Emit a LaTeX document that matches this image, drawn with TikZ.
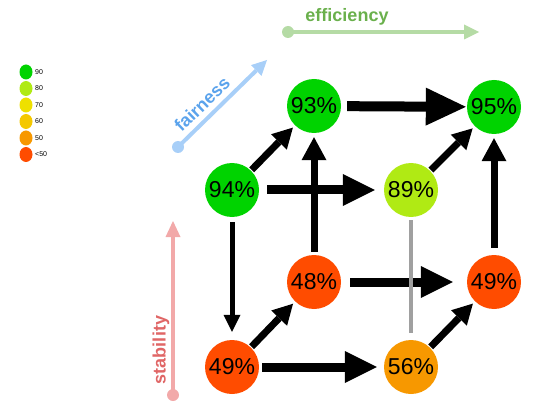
\documentclass[tikz,border=0pt]{standalone}
\usepackage{fontspec}
\setmainfont{Liberation Sans}
\usetikzlibrary{arrows.meta,shapes.geometric}
\definecolor{cA}{HTML}{00D300}
\definecolor{cB}{HTML}{B0EA14}
\definecolor{cC}{HTML}{EEE000}
\definecolor{cD}{HTML}{F4C800}
\definecolor{cE}{HTML}{F79800}
\definecolor{cF}{HTML}{FF4C00}
\definecolor{effl}{HTML}{B5DBA5}
\definecolor{efft}{HTML}{6AB04C}
\definecolor{fairl}{HTML}{A8CFF8}
\definecolor{fairt}{HTML}{5BA3EC}
\definecolor{stabl}{HTML}{F2A9A9}
\definecolor{stabt}{HTML}{E06666}
\definecolor{grayl}{HTML}{A0A0A0}
\begin{document}
\begin{tikzpicture}[x=1pt,y=-1pt,
  val/.style={circle, minimum size=54pt, inner sep=0pt, font=\fontsize{23}{23}\selectfont},
  leg/.style={ellipse, minimum width=13pt, minimum height=15pt, inner sep=0pt},
  legt/.style={anchor=west, inner sep=0pt, font=\fontsize{7}{7}\selectfont},
  hbig/.style={line width=10pt, -{Triangle[length=40pt,width=38pt,line width=0pt]}},
  hmid/.style={line width=9pt, -{Triangle[length=32pt,width=32pt,line width=0pt]}},
  vmid/.style={line width=7pt, -{Triangle[length=23pt,width=25pt,line width=0pt]}},
  vsmall/.style={line width=5pt, -{Triangle[length=17pt,width=17pt,line width=0pt]}},
  diag/.style={line width=7pt, -{Triangle[length=20pt,width=22pt,line width=0pt]}},
  axdot/.style={circle, minimum size=12pt, inner sep=0pt},
  axlab/.style={font=\fontsize{18}{18}\selectfont\bfseries, inner sep=0pt}
]
\useasboundingbox (0,0) rectangle (543,406);

% legend
\node[leg, fill=cA] (l1) at (26,72) {};
\node[leg, fill=cB] (l2) at (26,88.5) {};
\node[leg, fill=cC] (l3) at (26,105) {};
\node[leg, fill=cD] (l4) at (26,121.5) {};
\node[leg, fill=cE] (l5) at (26,138) {};
\node[leg, fill=cF] (l6) at (26,154.5) {};
\node[legt] (t1) at (35,72) {90};
\node[legt] (t2) at (35,88.5) {80};
\node[legt] (t3) at (35,105) {70};
\node[legt] (t4) at (35,121.5) {60};
\node[legt] (t5) at (35,138) {50};
\node[legt] (t6) at (35,154.5) {<50};

% axes
\node[axdot, fill=effl] (e0) at (288,32) {};
\coordinate (e1) at (479,32);
\draw[effl, line width=4pt, -{Triangle[length=15pt,width=15pt,line width=0pt]}] (e0.center) -- (e1);
\node[axlab, text=efft] (elab) at (347,17) {efficiency};

\node[axdot, fill=fairl] (f0) at (178,147) {};
\coordinate (f1) at (267,60);
\draw[fairl, line width=4pt, -{Triangle[length=15pt,width=15pt,line width=0pt]}] (f0.center) -- (f1);
\node[axlab, text=fairt, rotate=44] (flab) at (202,104) {fairness};

\node[axdot, fill=stabl] (s0) at (173,395) {};
\coordinate (s1) at (173,221);
\draw[stabl, line width=4pt, -{Triangle[length=16pt,width=15pt,line width=0pt]}] (s0.center) -- (s1);
\node[axlab, text=stabt, rotate=90] (slab) at (161,350) {stability};

% value nodes
\node[val, fill=cA] (n93) at (314,106) {93\%};
\node[val, fill=cA] (n95) at (494,107) {95\%};
\node[val, fill=cA] (n94) at (232,190) {94\%};
\node[val, fill=cB] (n89) at (411,190) {89\%};
\node[val, fill=cF] (n48) at (314,282) {48\%};
\node[val, fill=cF] (n49r) at (494,282) {49\%};
\node[val, fill=cF] (n49l) at (232,367) {49\%};
\node[val, fill=cE] (n56) at (411,367) {56\%};

% arrows
\draw[hbig, shorten <=6pt, shorten >=1pt] (n93) -- (n95);
\draw[hmid, shorten <=8pt, shorten >=9pt] (n94) -- (n89);
\draw[vmid, shorten <=3pt, shorten >=4pt] (n48) -- (n93);
\draw[hmid, shorten <=9pt, shorten >=14pt] (n48) -- (n49r);
\draw[hmid, shorten <=3pt, shorten >=7pt] (n49l) -- (n56);
\draw[vmid, shorten <=7pt, shorten >=4pt] (n49r) -- (n95);
\draw[vsmall, shorten <=5pt, shorten >=8pt] (n94) -- (n49l);
\draw[diag, shorten <=1pt, shorten >=3pt] (n94) -- (n93);
\draw[diag, shorten <=1pt, shorten >=3pt] (n89) -- (n95);
\draw[diag, shorten <=1pt, shorten >=3pt] (n49l) -- (n48);
\draw[diag, shorten <=1pt, shorten >=3pt] (n56) -- (n49r);
\draw[grayl, line width=4pt, shorten <=3pt, shorten >=7pt] (n89) -- (n56);
\end{tikzpicture}
\end{document}
